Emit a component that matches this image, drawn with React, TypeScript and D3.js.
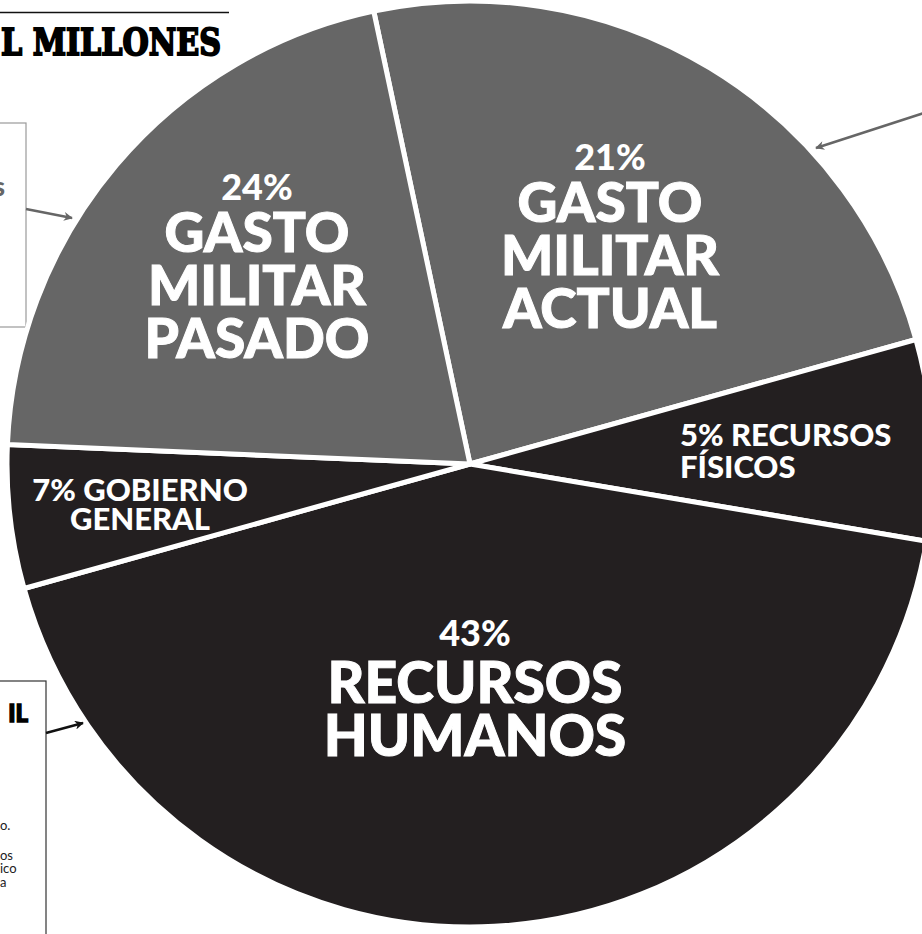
import React, { useEffect, useRef } from 'react';
import * as d3 from 'd3';

// slice order, clockwise from the Pasado/Actual boundary
const categories = ['Gasto militar actual', 'Recursos físicos', 'Recursos humanos', 'Gobierno general', 'Gasto militar pasado'];
// share of the circle as drawn (percent)
const sliceValues = [24, 7, 43, 5, 21];
// percentage printed on each slice
const printedPct = ['21%', '5%', '43%', '7%', '24%'];
const labelLines = [
  ['GASTO', 'MILITAR', 'ACTUAL'],
  ['RECURSOS', 'FÍSICOS'],
  ['RECURSOS', 'HUMANOS'],
  ['GOBIERNO', 'GENERAL'],
  ['GASTO', 'MILITAR', 'PASADO'],
];
const shades = ['#666666', '#231f20', '#231f20', '#231f20', '#666666'];

const App = () => {
  const ref = useRef<SVGSVGElement | null>(null);

  useEffect(() => {
    document.body.style.margin = '0';
    if (!ref.current) return;
    const svg = d3.select(ref.current);
    svg.selectAll('*').remove();

    const width = 922;
    const height = 934;
    const cx = 470;
    const cy = 464;
    const r = 463;
    const font = 'Lato, "Open Sans", sans-serif';

    const defs = svg.append('defs');
    const marker = (id: string, color: string) => {
      defs.append('marker')
        .attr('id', id)
        .attr('viewBox', '0 0 10 10')
        .attr('refX', 9)
        .attr('refY', 5)
        .attr('markerWidth', 11)
        .attr('markerHeight', 9)
        .attr('markerUnits', 'userSpaceOnUse')
        .attr('orient', 'auto')
        .append('path')
        .attr('d', 'M0,0 L10,5 L0,10 L3,5 Z')
        .attr('fill', color);
    };
    marker('arrGray', '#666666');
    marker('arrBlack', '#111111');

    svg.attr('width', width).attr('height', height);

    // heading fragment
    svg.append('line')
      .attr('x1', 0).attr('x2', 229).attr('y1', 12.5).attr('y2', 12.5)
      .attr('stroke', '#111').attr('stroke-width', 1.6);
    svg.append('text')
      .attr('x', 1).attr('y', 55)
      .attr('textLength', 220)
      .attr('lengthAdjust', 'spacingAndGlyphs')
      .style('font-family', '"DejaVu Serif", serif')
      .style('font-weight', 'bold')
      .style('font-size', '37px')
      .attr('fill', '#000')
      .attr('stroke', '#000')
      .attr('stroke-width', 2)
      .text('L MILLONES');

    // side boxes (cut off at left edge)
    svg.append('rect')
      .attr('x', -2).attr('y', 123).attr('width', 28).attr('height', 204)
      .attr('fill', 'none').attr('stroke', '#9a9a9a').attr('stroke-width', 1.2);
    svg.append('text')
      .attr('x', 5).attr('y', 196).attr('text-anchor', 'end')
      .style('font-family', font).style('font-weight', 900).style('font-size', '26px')
      .attr('fill', '#666').text('s');

    svg.append('rect')
      .attr('x', -2).attr('y', 681).attr('width', 48).attr('height', 270)
      .attr('fill', 'none').attr('stroke', '#333').attr('stroke-width', 1.2);
    svg.append('text')
      .attr('x', 28).attr('y', 722).attr('text-anchor', 'end')
      .style('font-family', font).style('font-weight', 900).style('font-size', '24px')
      .attr('fill', '#000').attr('stroke', '#000').attr('stroke-width', 1.4)
      .text('IL');
    const smallText = [['o.', 830], ['os', 860], ['ico', 873], ['a', 887]];
    smallText.forEach(([t, y]) => {
      svg.append('text')
        .attr('x', 0).attr('y', y as number)
        .style('font-family', font).style('font-size', '13px')
        .attr('fill', '#222').text(t as string);
    });

    // pie
    const pie = d3.pie<number>()
      .sort(null)
      .value(d => d)
      .startAngle(-12 * Math.PI / 180)
      .endAngle(348 * Math.PI / 180);
    const arc = d3.arc<d3.PieArcDatum<number>>().innerRadius(0).outerRadius(r);
    const arcs = pie(sliceValues);

    const g = svg.append('g').attr('transform', `translate(${cx},${cy})`);
    g.selectAll('path')
      .data(arcs)
      .enter()
      .append('path')
      .attr('d', arc)
      .attr('fill', (d, i) => shades[i])
      .attr('stroke', '#fff')
      .attr('stroke-width', 5)
      .attr('stroke-linejoin', 'round')
      .append('title')
      .text((d, i) => categories[i]);

    // labels
    const big = (x: number, y: number, t: string, size: number, anchor = 'middle') =>
      svg.append('text')
        .attr('x', x).attr('y', y).attr('text-anchor', anchor)
        .style('font-family', font).style('font-weight', 900).style('font-size', `${size}px`)
        .attr('fill', '#fff').attr('stroke', '#fff').attr('stroke-width', size > 40 ? 1 : 0)
        .text(t);

    // actual
    big(610, 170, printedPct[0], 36);
    labelLines[0].forEach((t, i) => big(610, 222 + i * 53, t, 55));
    // pasado
    big(257, 200, printedPct[4], 36);
    labelLines[4].forEach((t, i) => big(257, 252 + i * 53, t, 55));
    // humanos
    big(475, 646, printedPct[2], 36);
    labelLines[2].forEach((t, i) => big(475, 703 + i * 53, t, 57));
    // fisicos
    big(680, 446, `${printedPct[1]} ${labelLines[1][0]}`, 31, 'start');
    big(680, 478, labelLines[1][1], 31, 'start');
    // gobierno
    big(140, 501, `${printedPct[3]} ${labelLines[3][0]}`, 31);
    big(140, 530, labelLines[3][1], 31);

    // callout arrows
    svg.append('line')
      .attr('x1', 26).attr('y1', 209).attr('x2', 72).attr('y2', 218)
      .attr('stroke', '#666').attr('stroke-width', 2.5).attr('marker-end', 'url(#arrGray)');
    svg.append('line')
      .attr('x1', 924).attr('y1', 113).attr('x2', 816).attr('y2', 148)
      .attr('stroke', '#666').attr('stroke-width', 2.5).attr('marker-end', 'url(#arrGray)');
    svg.append('line')
      .attr('x1', 46).attr('y1', 733).attr('x2', 83).attr('y2', 723)
      .attr('stroke', '#111').attr('stroke-width', 2.5).attr('marker-end', 'url(#arrBlack)');
  }, []);

  return <svg ref={ref} style={{ display: 'block' }} />;
};

export default App;
